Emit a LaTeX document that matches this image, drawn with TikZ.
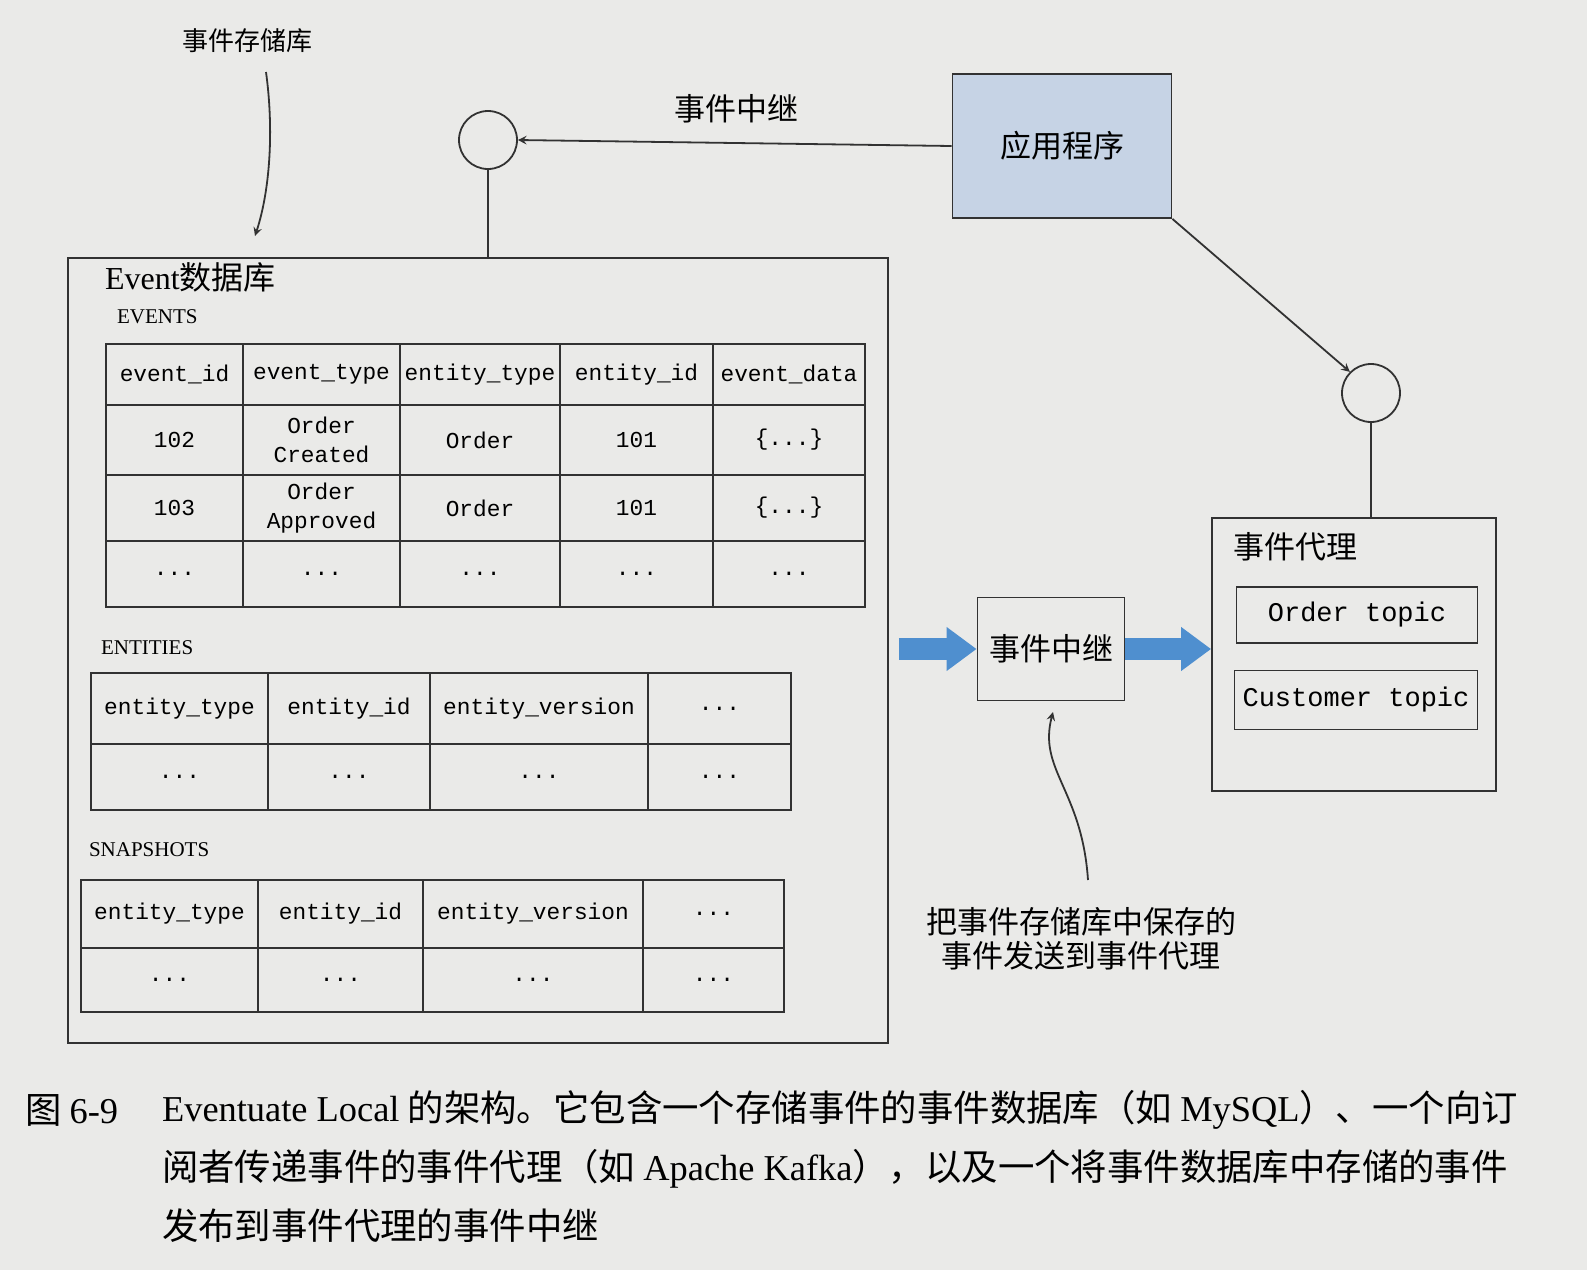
\documentclass[tikz,border=0pt]{standalone}
\usepackage{fontspec}
\setmainfont{Liberation Serif}
\setmonofont{Liberation Mono}
\newfontfamily\cjk{Noto Sans CJK SC}
\usetikzlibrary{arrows,arrows.meta,positioning}
\definecolor{pagegray}{RGB}{234,234,232}
\definecolor{appblue}{RGB}{198,211,229}
\definecolor{flowblue}{RGB}{79,143,207}
\definecolor{inkgray}{RGB}{50,50,50}
\newcommand\lat[1]{{\rmfamily #1}}

\begin{document}
\begin{tikzpicture}[x=0.5pt,y=-0.5pt,
  box/.style={draw=inkgray,line width=0.9pt,inner sep=0pt},
  cell/.style={draw=inkgray,line width=0.9pt,inner sep=0pt,align=center,
    font=\ttfamily\fontsize{11.4}{14.5}\selectfont},
  port/.style={circle,draw=inkgray,line width=0.9pt,minimum size=29pt,inner sep=0pt},
  conn/.style={draw=inkgray,line width=0.9pt},
  flow/.style={draw=flowblue,line width=11pt,-{Triangle[width=21pt,length=15pt]}},
  zh/.style={font=\cjk\fontsize{15.5}{19}\selectfont},
  tname/.style={anchor=west,font=\rmfamily\fontsize{10.5}{12}\selectfont},
  capline/.style={anchor=west,font=\cjk\fontsize{18.2}{21}\selectfont}]
\useasboundingbox (0,0) rectangle (1587,1270);
\fill[pagegray] (0,0) rectangle (1587,1270);

% application and its two ports
\node[box,fill=appblue,minimum width=109.5pt,minimum height=72pt] (app) at (1062,146) {};
\node[zh] (applbl) at (app) {应用程序};
\node[port] (relayport) at (488,140) {};
\node[port] (brokerport) at (1371,393) {};
\node[zh] (relaytop) at (736,109) {事件中继};

% event database
\node[box,minimum width=410pt,minimum height=392.5pt] (db) at (478,650.5) {};
\node[anchor=west] (dblbl) at (98,277) {\fontsize{16}{19}\selectfont Event\cjk 数据库};
\node[zh,font=\cjk\fontsize{13}{15}\selectfont] (storelbl) at (247,41) {事件存储库};
\coordinate (storetip) at (255,236);

\node[tname] (evname) at (110,317) {EVENTS};
\foreach \a/\b/\t [count=\j] in {106/243/event\_id,243/400/event\_type,400/560/entity\_type,560/713/entity\_id,713/865/event\_data}
  \node[cell,minimum width={(\b-\a)*0.5pt},minimum height=30.5pt] (evh\j) at ({(\a+\b)/2},374.5) {\t};
\foreach \a/\b/\t [count=\j] in {106/243/102,243/400/{Order\\Created},400/560/Order,560/713/101,713/865/{\{...\}}}
  \node[cell,minimum width={(\b-\a)*0.5pt},minimum height=35pt] (eva\j) at ({(\a+\b)/2},440) {\t};
\foreach \a/\b/\t [count=\j] in {106/243/103,243/400/{Order\\Approved},400/560/Order,560/713/101,713/865/{\{...\}}}
  \node[cell,minimum width={(\b-\a)*0.5pt},minimum height=33pt] (evb\j) at ({(\a+\b)/2},508) {\t};
\foreach \a/\b [count=\j] in {106/243,243/400,400/560,560/713,713/865}
  \node[cell,minimum width={(\b-\a)*0.5pt},minimum height=33pt] (evc\j) at ({(\a+\b)/2},574) {...};

\node[tname] (enname) at (94,648) {ENTITIES};
\foreach \a/\b/\t [count=\j] in {91/268/entity\_type,268/430/entity\_id,430/648/entity\_version,648/791/{...}}
  \node[cell,minimum width={(\b-\a)*0.5pt},minimum height=35.5pt] (enh\j) at ({(\a+\b)/2},708.5) {\t};
\foreach \a/\b [count=\j] in {91/268,268/430,430/648,648/791}
  \node[cell,minimum width={(\b-\a)*0.5pt},minimum height=33pt] (enr\j) at ({(\a+\b)/2},777) {...};

\node[tname] (snname) at (82,850) {SNAPSHOTS};
\foreach \a/\b/\t [count=\j] in {81/258/entity\_type,258/423/entity\_id,423/643/entity\_version,643/784/{...}}
  \node[cell,minimum width={(\b-\a)*0.5pt},minimum height=34pt] (snh\j) at ({(\a+\b)/2},914) {\t};
\foreach \a/\b [count=\j] in {81/258,258/423,423/643,643/784}
  \node[cell,minimum width={(\b-\a)*0.5pt},minimum height=32pt] (snr\j) at ({(\a+\b)/2},980) {...};

% relay and broker
\node[box,minimum width=73.5pt,minimum height=51.5pt] (relay) at (1051,649) {};
\node[zh] (relaylbl) at (relay) {事件中继};
\node[box,minimum width=142pt,minimum height=136.5pt] (broker) at (1354,654.5) {};
\node[zh,anchor=west] (brokerlbl) at (1226,547) {事件代理};
\node[box,minimum width=120.5pt,minimum height=28pt,font=\ttfamily\fontsize{13.5}{16}\selectfont] (ordertopic) at (1357,615) {Order topic};
\node[box,minimum width=121.5pt,minimum height=29.5pt,font=\ttfamily\fontsize{13.5}{16}\selectfont] (custtopic) at (1356,700) {Customer topic};
\node[zh,align=center,font=\cjk\fontsize{15.5}{17}\selectfont] (notelbl) at (1081,939) {把事件存储库中保存的\\事件发送到事件代理};
\coordinate (notetail) at (1088,880);
\coordinate (notetip) at (1053,712);

% connectors
\draw[conn,-stealth] (app.west) -- (relayport.east);
\draw[conn] (relayport.south) -- (relayport.south |- db.north);
\draw[conn,-stealth] (app.south east) -- (brokerport.north west);
\draw[conn] (brokerport.south) -- (brokerport.south |- broker.north);
\draw[conn,-stealth] (266,72) .. controls (274,130) and (270,190) .. (storetip);
\draw[conn,-stealth] (notetail) .. controls (1082,790) and (1038,770) .. (notetip);
\draw[flow] ([xshift=5pt]db.east |- relay.west) -- (relay.west);
\draw[flow] (relay.east) -- (relay.east -| broker.west);

% caption
\node[capline] (figno) at (18,1110) {图 \lat{6-9}};
\node[capline] (cap1) at (155,1110) {\lat{Eventuate Local} 的架构。它包含一个存储事件的事件数据库（如 \lat{MySQL}）、一个向订};
\node[capline] (cap2) at (155,1169) {阅者传递事件的事件代理（如 \lat{Apache Kafka}），以及一个将事件数据库中存储的事件};
\node[capline] (cap3) at (155,1226) {发布到事件代理的事件中继};
\end{tikzpicture}
\end{document}
